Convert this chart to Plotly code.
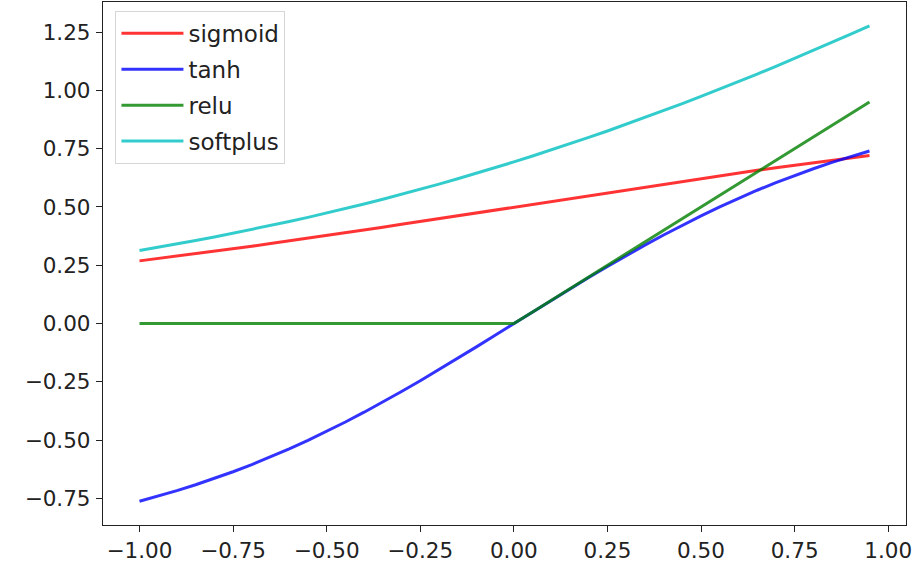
import plotly.graph_objects as go

x = [-1.00, -0.95, -0.90, -0.85, -0.80, -0.75, -0.70, -0.65, -0.60, -0.55,
     -0.50, -0.45, -0.40, -0.35, -0.30, -0.25, -0.20, -0.15, -0.10, -0.05,
     0.00, 0.05, 0.10, 0.15, 0.20, 0.25, 0.30, 0.35, 0.40, 0.45,
     0.50, 0.55, 0.60, 0.65, 0.70, 0.75, 0.80, 0.85, 0.90, 0.95]

sigmoid = [0.2689, 0.2789, 0.2891, 0.2994, 0.3100, 0.3208, 0.3318, 0.3430, 0.3543, 0.3659,
           0.3775, 0.3894, 0.4013, 0.4134, 0.4256, 0.4378, 0.4502, 0.4626, 0.4750, 0.4875,
           0.5000, 0.5125, 0.5250, 0.5374, 0.5498, 0.5622, 0.5744, 0.5866, 0.5987, 0.6106,
           0.6225, 0.6341, 0.6457, 0.6570, 0.6682, 0.6792, 0.6900, 0.7006, 0.7109, 0.7211]

tanh = [-0.7616, -0.7398, -0.7163, -0.6911, -0.6640, -0.6351, -0.6044, -0.5717, -0.5370, -0.5005,
        -0.4621, -0.4218, -0.3799, -0.3364, -0.2913, -0.2449, -0.1974, -0.1489, -0.0997, -0.0500,
        0.0000, 0.0500, 0.0997, 0.1489, 0.1974, 0.2449, 0.2913, 0.3364, 0.3799, 0.4218,
        0.4621, 0.5005, 0.5370, 0.5717, 0.6044, 0.6351, 0.6640, 0.6911, 0.7163, 0.7398]

relu = [0.00, 0.00, 0.00, 0.00, 0.00, 0.00, 0.00, 0.00, 0.00, 0.00,
        0.00, 0.00, 0.00, 0.00, 0.00, 0.00, 0.00, 0.00, 0.00, 0.00,
        0.00, 0.05, 0.10, 0.15, 0.20, 0.25, 0.30, 0.35, 0.40, 0.45,
        0.50, 0.55, 0.60, 0.65, 0.70, 0.75, 0.80, 0.85, 0.90, 0.95]

softplus = [0.3133, 0.3269, 0.3412, 0.3559, 0.3711, 0.3869, 0.4032, 0.4200, 0.4375, 0.4555,
            0.4741, 0.4933, 0.5130, 0.5334, 0.5544, 0.5759, 0.5981, 0.6209, 0.6444, 0.6684,
            0.6931, 0.7184, 0.7444, 0.7709, 0.7981, 0.8259, 0.8544, 0.8834, 0.9130, 0.9433,
            0.9741, 1.0055, 1.0375, 1.0700, 1.1032, 1.1369, 1.1711, 1.2059, 1.2412, 1.2769]

names = ["sigmoid", "tanh", "relu", "softplus"]
series = [sigmoid, tanh, relu, softplus]
colors = ["rgba(255,0,0,0.8)", "rgba(0,0,255,0.8)", "rgba(0,128,0,0.8)", "rgba(0,191,191,0.8)"]

ytick_vals = [-0.75, -0.50, -0.25, 0.00, 0.25, 0.50, 0.75, 1.00, 1.25]
xtick_vals = [-1.00, -0.75, -0.50, -0.25, 0.00, 0.25, 0.50, 0.75, 1.00]

fig = go.Figure()
for n, s, c in zip(names, series, colors):
    fig.add_trace(go.Scatter(x=x, y=s, mode="lines", name=n, legendgroup=n,
                             line=dict(color=c, width=3)))

font = dict(family="DejaVu Sans", size=21.5, color="#222222")
legend_font = dict(family="DejaVu Sans", size=23, color="#222222")
axis_common = dict(showgrid=False, zeroline=False, showline=True, mirror=True,
                   linecolor="#222222", linewidth=1.3, ticks="outside", ticklen=6,
                   tickwidth=1.3, tickcolor="#222222", tickformat=".2f", tickfont=font,
                   automargin=False)

fig.update_layout(
    width=915, height=569,
    margin=dict(l=103, r=9, t=2, b=44),
    paper_bgcolor="white", plot_bgcolor="white",
    font=font,
    showlegend=True,
    legend=dict(x=0.0155, y=0.983, xanchor="left", yanchor="top",
                bgcolor="rgba(255,255,255,0.8)", bordercolor="#d6d6d6", borderwidth=1,
                font=legend_font, traceorder="grouped", tracegroupgap=3, itemwidth=62),
    xaxis=dict(range=[-1.0975, 1.0475], tickvals=xtick_vals, **axis_common),
    yaxis=dict(range=[-0.8635, 1.3788], tickvals=ytick_vals, ticklabelstandoff=1, **axis_common),
)

fig.write_html("out.html", config={"displayModeBar": False},
               post_script="document.body.style.margin='0';document.body.style.overflow='hidden';")
